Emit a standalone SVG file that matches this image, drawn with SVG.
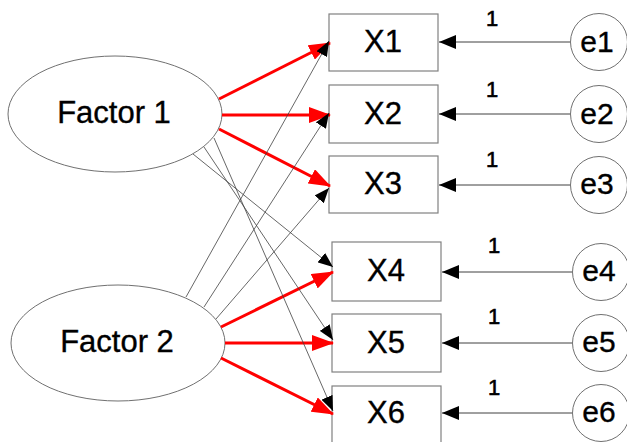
<svg xmlns="http://www.w3.org/2000/svg" width="627" height="442" viewBox="0 0 627 442">
  <style>
    .lat { fill: #fff; stroke: #707070; stroke-width: 1; }
    .obs { fill: #fff; stroke: #808080; stroke-width: 1.2; }
    .err { fill: #fff; stroke: #707070; stroke-width: 1; }
    .lbl { font-family: "Liberation Sans", Arial, sans-serif; fill: #000; stroke: #000; stroke-width: 0.35; text-anchor: middle; }
    .big { font-size: 31px; }
    .mid { font-size: 31px; }
    .erl { font-size: 30px; }
    .one { font-size: 22px; stroke-width: 0.6; }
    .load { stroke: #ff0000; stroke-width: 3; fill: none; marker-end: url(#redhead); }
    .cross { stroke: #404040; stroke-width: 0.8; fill: none; marker-end: url(#blackhead); }
    .errline { stroke: #404040; stroke-width: 1; fill: none; marker-end: url(#errhead); }
  </style>
  <defs>
    <marker id="redhead" markerUnits="userSpaceOnUse" markerWidth="22" markerHeight="16" viewBox="0 0 22 16" refX="21" refY="8" orient="auto">
      <path d="M0,0 L22,8 L0,16 z" fill="#ff0000"/>
    </marker>
    <marker id="blackhead" markerUnits="userSpaceOnUse" markerWidth="15" markerHeight="12" viewBox="0 0 15 12" refX="15" refY="6" orient="auto">
      <path d="M0,0 L15,6 L0,12 z" fill="#000"/>
    </marker>
    <marker id="errhead" markerUnits="userSpaceOnUse" markerWidth="17" markerHeight="14" viewBox="0 0 17 14" refX="17" refY="7" orient="auto">
      <path d="M0,0 L17,7 L0,14 z" fill="#000"/>
    </marker>
  </defs>

  <!-- latent factors -->
  <g id="factor1">
    <ellipse class="lat" cx="115" cy="114" rx="107" ry="58"/>
    <text class="lbl big" x="114" y="123">Factor 1</text>
  </g>
  <g id="factor2">
    <ellipse class="lat" cx="118" cy="343" rx="107" ry="58"/>
    <text class="lbl big" x="117" y="352">Factor 2</text>
  </g>

  <!-- observed indicators -->
  <g id="x1">
    <rect class="obs" x="329" y="14" width="109" height="57"/>
    <text class="lbl mid" x="383" y="52">X1</text>
  </g>
  <g id="x2">
    <rect class="obs" x="329" y="85" width="109" height="58"/>
    <text class="lbl mid" x="383" y="124">X2</text>
  </g>
  <g id="x3">
    <rect class="obs" x="329" y="156" width="109" height="57"/>
    <text class="lbl mid" x="383" y="194">X3</text>
  </g>
  <g id="x4">
    <rect class="obs" x="332" y="242" width="109" height="59"/>
    <text class="lbl mid" x="386" y="281">X4</text>
  </g>
  <g id="x5">
    <rect class="obs" x="332" y="314" width="109" height="58"/>
    <text class="lbl mid" x="386" y="353">X5</text>
  </g>
  <g id="x6">
    <rect class="obs" x="332" y="386" width="109" height="60"/>
    <text class="lbl mid" x="386" y="423">X6</text>
  </g>

  <!-- error terms -->
  <g id="e1">
    <circle class="err" cx="599" cy="42" r="28.5"/>
    <text class="lbl erl" x="597" y="52">e1</text>
  </g>
  <g id="e2">
    <circle class="err" cx="599" cy="114" r="28.5"/>
    <text class="lbl erl" x="597" y="124">e2</text>
  </g>
  <g id="e3">
    <circle class="err" cx="599" cy="185" r="28.5"/>
    <text class="lbl erl" x="597" y="194">e3</text>
  </g>
  <g id="e4">
    <circle class="err" cx="601" cy="272" r="28.5"/>
    <text class="lbl erl" x="599" y="281">e4</text>
  </g>
  <g id="e5">
    <circle class="err" cx="601" cy="343" r="28.5"/>
    <text class="lbl erl" x="599" y="352">e5</text>
  </g>
  <g id="e6">
    <circle class="err" cx="601" cy="413" r="28.5"/>
    <text class="lbl erl" x="599" y="422">e6</text>
  </g>

  <!-- paths -->
  <g id="connectors">
    <!-- primary loadings -->
    <line class="load" x1="219" y1="99" x2="330" y2="43"/>
    <line class="load" x1="222" y1="115" x2="330" y2="115"/>
    <line class="load" x1="219" y1="129" x2="330" y2="186"/>
    <line class="load" x1="221" y1="327" x2="333" y2="272"/>
    <line class="load" x1="225" y1="343" x2="333" y2="343"/>
    <line class="load" x1="221" y1="358" x2="333" y2="414"/>

    <!-- cross loadings -->
    <line class="cross" x1="193" y1="154" x2="333" y2="267"/>
    <line class="cross" x1="204" y1="147" x2="333" y2="340"/>
    <line class="cross" x1="214" y1="138" x2="333" y2="411"/>
    <line class="cross" x1="186" y1="297" x2="329" y2="41"/>
    <line class="cross" x1="204" y1="307" x2="329" y2="113"/>
    <line class="cross" x1="216" y1="319" x2="329" y2="188"/>

    <!-- error paths -->
    <line class="errline" x1="570" y1="42" x2="439" y2="42"/>
    <line class="errline" x1="570" y1="114" x2="439" y2="114"/>
    <line class="errline" x1="570" y1="185" x2="439" y2="185"/>
    <line class="errline" x1="572" y1="272" x2="442" y2="272"/>
    <line class="errline" x1="572" y1="343" x2="442" y2="343"/>
    <line class="errline" x1="572" y1="413" x2="442" y2="413"/>

    <!-- fixed error weights -->
    <text class="lbl one" x="492" y="26">1</text>
    <text class="lbl one" x="492" y="97">1</text>
    <text class="lbl one" x="492" y="167">1</text>
    <text class="lbl one" x="494" y="253">1</text>
    <text class="lbl one" x="494" y="324">1</text>
    <text class="lbl one" x="494" y="395">1</text>
  </g>
</svg>
